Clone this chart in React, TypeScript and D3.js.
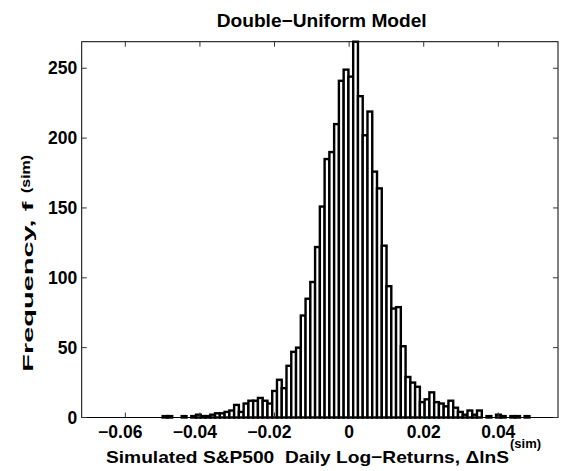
import React from "react";
import * as d3 from "d3";

// histogram of simulated returns: 100 equal bins from binStart
const binStart = -0.0717;
const binWidth = 0.001277;
const binCounts = [
  0, 0, 0, 0, 0, 0, 0, 0, 0, 0,
  0, 0, 0, 0, 0, 0, 0, 1, 1, 0,
  0, 1, 0, 1, 2, 1, 1, 2, 3, 3,
  4, 5, 9, 4, 10, 12, 12, 14, 12, 10,
  19, 27, 21, 37, 47, 50, 73, 85, 97, 122,
  151, 185, 190, 210, 241, 249, 244, 269, 230, 202,
  219, 176, 164, 123, 94, 78, 79, 51, 29, 25,
  22, 11, 13, 18, 11, 10, 8, 12, 7, 4,
  2, 5, 2, 5, 0, 1, 0, 2, 1, 0,
  1, 1, 0, 1, 0, 0, 0, 0, 0, 0,
];
const xTicks = [-0.06, -0.04, -0.02, 0, 0.02, 0.04];
const yTicks = [0, 50, 100, 150, 200, 250];
const yMax = 269;

const W = 568;
const H = 471;
const margin = { top: 41.7, right: 10, bottom: 53.5, left: 81.7 };
const FONT = "'Liberation Sans', Arial, Helvetica, sans-serif";

export default function App() {
  const x = d3
    .scaleLinear()
    .domain([binStart, binStart + binCounts.length * binWidth])
    .range([margin.left, W - margin.right]);
  const y = d3
    .scaleLinear()
    .domain([0, yMax])
    .range([H - margin.bottom, margin.top]);

  const [x0, x1] = x.range();
  const [yb, yt] = y.range();
  const fmt = (v: number) => (v === 0 ? "0" : d3.format(".2f")(v));
  const tick = 5;
  const tickFont = 17.5;

  return (
    <svg
      width={W}
      height={H}
      style={{ position: "absolute", left: 0, top: 0, background: "#fff" }}
      fontFamily={FONT}
      fontWeight="bold"
    >
      <rect width={W} height={H} fill="#fff" />

      {/* bars */}
      <g fill="#fff" stroke="#000" strokeWidth={2.4}>
        {binCounts.map((c, i) => {
          const a = binStart + i * binWidth;
          return (
            <rect
              key={i}
              x={x(a)}
              y={y(c)}
              width={x(a + binWidth) - x(a)}
              height={yb - y(c)}
            />
          );
        })}
      </g>

      {/* box */}
      <rect
        x={x0}
        y={yt}
        width={x1 - x0}
        height={yb - yt}
        fill="none"
        stroke="#000"
        strokeWidth={1}
      />

      {/* x ticks; the minus sign hangs left of the centred number */}
      {xTicks.map((t) => (
        <g key={t}>
          <line x1={x(t)} x2={x(t)} y1={yb} y2={yb - tick} stroke="#333" />
          <line x1={x(t)} x2={x(t)} y1={yt} y2={yt + tick} stroke="#333" />
          <text
            x={x(t) - (t < 0 ? (0.584 * tickFont) / 2 : 0)}
            y={438}
            textAnchor="middle"
            fontSize={tickFont}
          >
            {fmt(t)}
          </text>
        </g>
      ))}

      {/* y ticks */}
      {yTicks.map((t) => (
        <g key={t}>
          <line x1={x0} x2={x0 + tick} y1={y(t)} y2={y(t)} stroke="#333" />
          <line x1={x1} x2={x1 - tick} y1={y(t)} y2={y(t)} stroke="#333" />
          <text
            x={x0 - 4.5}
            y={y(t)}
            textAnchor="end"
            dominantBaseline="central"
            fontSize={tickFont}
          >
            {t}
          </text>
        </g>
      ))}

      {/* title */}
      <text
        x={216.7}
        y={27}
        fontSize={18}
        textLength={210}
        lengthAdjust="spacingAndGlyphs"
      >
        Double−Uniform Model
      </text>

      {/* x label */}
      <text
        x={106}
        y={463}
        fontSize={17}
        textLength={403}
        lengthAdjust="spacingAndGlyphs"
        style={{ whiteSpace: "pre" }}
      >
        {"Simulated S&P500  Daily Log−Returns, ΔlnS"}
      </text>
      <text x={510} y={448} fontSize={13}>
        (sim)
      </text>

      {/* y label */}
      <text
        transform="translate(33.3,371.7) rotate(-90)"
        fontSize={15}
        textLength={170}
        lengthAdjust="spacingAndGlyphs"
      >
        Frequency, f
      </text>
      <text
        transform="translate(29.5,193) rotate(-90)"
        fontSize={12}
        textLength={38}
        lengthAdjust="spacingAndGlyphs"
      >
        (sim)
      </text>
    </svg>
  );
}
